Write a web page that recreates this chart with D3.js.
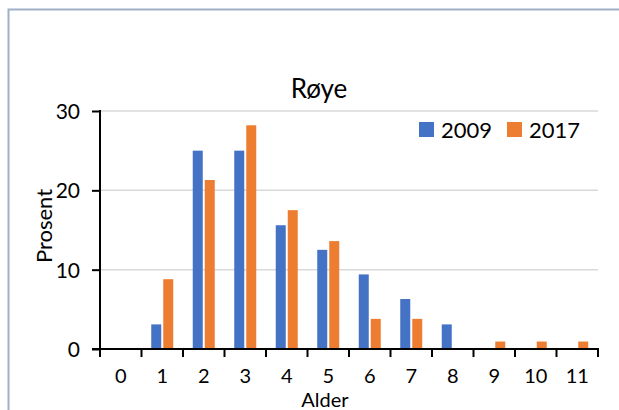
<!DOCTYPE html>
<html><head><meta charset="utf-8">
<script src="https://cdn.jsdelivr.net/npm/d3@7"></script>
<style>body{margin:0;background:#fff}svg{display:block;font-family:Lato,"Open Sans",sans-serif}</style>
</head><body><svg id="c" width="619" height="410"></svg>
<script>
const categories = ["0","1","2","3","4","5","6","7","8","9","10","11"];
const series2009 = [0,3.1,25,25,15.6,12.5,9.4,6.3,3.1,0,0,0];
const series2017 = [0,8.8,21.3,28.2,17.5,13.6,3.8,3.8,0,0.94,0.94,0.94];
const yTicks = [0,10,20,30];
const seriesNames = ["2009","2017"];
const colors = ["#4472c4","#ed7d31"];

const svg = d3.select("#c");
// outer frame
svg.append("rect").attr("x",8.5).attr("y",9.5).attr("width",640).attr("height",420)
  .attr("fill","none").attr("stroke","#9fb1c6").attr("stroke-width",2);

const m = {l:100, r:598, t:111, b:349};
const x = d3.scaleBand().domain(categories).range([m.l,m.r]);
const y = d3.scaleLinear().domain([0,30]).range([m.b,m.t]);

// gridlines
svg.append("g").selectAll("line").data(yTicks.filter(d=>d>0)).join("line")
  .attr("x1",m.l).attr("x2",m.r).attr("y1",d=>y(d)).attr("y2",d=>y(d))
  .attr("stroke","#d9d9d9").attr("stroke-width",1.5);

// bars
const bw = 10;
const data = [series2009, series2017];
data.forEach((s,i)=>{
  svg.append("g").selectAll("rect").data(s.map((v,j)=>({c:categories[j],v}))).join("rect")
    .attr("x",d=>x(d.c)+x.bandwidth()/2 + (i===0?-11:1))
    .attr("width",bw)
    .attr("y",d=>y(d.v)).attr("height",d=>y(0)-y(d.v))
    .attr("fill",colors[i]);
});

// y axis
const ya = svg.append("g").attr("transform",`translate(${m.l},0)`)
  .call(d3.axisLeft(y).tickValues(yTicks).tickSize(8).tickPadding(12));
ya.select(".domain").attr("stroke","#000").attr("stroke-width",2).attr("d",`M0,${m.t-1}V${m.b}`);
ya.selectAll(".tick line").attr("stroke","#000").attr("stroke-width",2);
ya.selectAll("text").attr("font-size",21).attr("fill","#000").attr("font-family","Lato,sans-serif").attr("dy","0.36em");

// x axis
const xa = svg.append("g").attr("transform",`translate(0,${m.b})`);
xa.append("line").attr("x1",m.l-8).attr("x2",m.r+1).attr("stroke","#000").attr("stroke-width",2);
xa.selectAll(".tk").data(categories.concat(["end"])).join("line")
  .attr("x1",(d,i)=>m.l+i*x.bandwidth()).attr("x2",(d,i)=>m.l+i*x.bandwidth())
  .attr("y1",0).attr("y2",8).attr("stroke","#000").attr("stroke-width",2);
xa.selectAll("text").data(categories).join("text")
  .attr("x",d=>x(d)+x.bandwidth()/2).attr("y",34).attr("text-anchor","middle")
  .attr("font-size",20).attr("fill","#000").text(d=>d);

// titles
svg.append("text").attr("x",319).attr("y",98).attr("text-anchor","middle")
  .attr("font-size",26).attr("fill","#000").text("Røye");
svg.append("text").attr("x",325).attr("y",407).attr("text-anchor","middle")
  .attr("font-size",20).attr("fill","#000").text("Alder");
svg.append("text").attr("transform","translate(52,226) rotate(-90)").attr("text-anchor","middle")
  .attr("font-size",22).attr("fill","#000").text("Prosent");

// legend
const lx = [419,507];
seriesNames.forEach((n,i)=>{
  svg.append("rect").attr("x",lx[i]).attr("y",122).attr("width",15).attr("height",15).attr("fill",colors[i]);
  svg.append("text").attr("x",lx[i]+22).attr("y",138).attr("font-size",22).attr("fill","#000").text(n);
});
</script></body></html>
